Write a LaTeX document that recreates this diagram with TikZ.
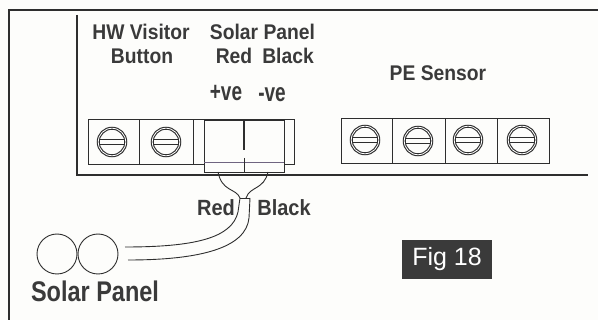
\documentclass[tikz,border=0pt]{standalone}
\usepackage{fontspec}
\setmainfont{Liberation Sans}
\usetikzlibrary{calc}
\definecolor{inkgray}{HTML}{2E2E2E}
\definecolor{labelgray}{HTML}{3A3A3A}
\definecolor{paper}{HTML}{FDFDFB}
\definecolor{plugline}{HTML}{6F6480}

\begin{document}
\begin{tikzpicture}[x=1pt,y=-1pt,
    inkline/.style={draw=inkgray,line width=0.9pt},
    frameline/.style={draw=inkgray,line width=1.7pt},
    cell/.style={inkline,inner sep=0pt,minimum height=45pt},
    screw/.style={circle,draw=inkgray,line width=1.1pt,double=white,double distance=0.8pt,
      inner sep=0pt,minimum size=27.5pt,
      path picture={
        \draw[inkgray,line width=1.2pt]
          ($(path picture bounding box.center)+(-16,-2.5)$) -- ++(32,0)
          ($(path picture bounding box.center)+(-16,2.5)$) -- ++(32,0);
      }},
    panel/.style={circle,inkline,inner sep=0pt,minimum size=40pt},
    label/.style={text=labelgray,font=\bfseries\fontsize{19.3}{21}\selectfont,inner sep=0pt,
      transform shape,yscale=1.1},
    tall label/.style={label,font=\bfseries\fontsize{20}{22}\selectfont,xscale=0.95,yscale=1.18},
    biglabel/.style={label,font=\bfseries\fontsize{23.5}{25}\selectfont,yscale=1.1}]
    \fill[paper] (0,0) rectangle (598,320);
    \useasboundingbox (0,0) rectangle (598,320);

    % Outer frame and the edge of the board
    \coordinate (frameTR) at (598,10);
    \coordinate (frameTL) at (9,10);
    \coordinate (frameBL) at (9,320);
    \coordinate (boardT) at (77,15);
    \coordinate (boardL) at (77,175);
    \coordinate (boardR) at (588,175);
    \draw[frameline] (frameTR) -- (frameTL) -- (frameBL);
    \draw[inkline,line width=1.2pt] (boardT) -- (boardL) -- (boardR);

    % Left terminal block
    \node[cell,minimum width=51pt] (hwA) at (113.5,141.5) {};
    \node[cell,minimum width=54pt] (hwB) at (166,141.5) {};
    \node[cell,minimum width=101pt] (solarCell) at (243.5,141.5) {};
    \node[screw] (hwScrewA) at (112,142) {};
    \node[screw] (hwScrewB) at (166,142) {};

    % Solar panel plug
    \node[cell,fill=paper,minimum width=80pt,minimum height=52pt] (plug) at (244,146) {};
    \coordinate (plugL) at (204,163);
    \coordinate (plugR) at (284,163);
    \draw[plugline,line width=1pt] (plugL) -- (plugR);
    \coordinate (splitA) at (244,150);
    \coordinate (splitB) at (244,158);
    \draw[inkline,line width=1.2pt] (plug.north) -- (splitA);
    \draw[inkline] (splitB) -- (plug.south);

    % Right terminal block
    \node[cell,minimum width=51pt] (peA) at (366.5,140.5) {};
    \node[cell,minimum width=53pt] (peB) at (418.5,140.5) {};
    \node[cell,minimum width=52pt] (peC) at (471,140.5) {};
    \node[cell,minimum width=52pt] (peD) at (523,140.5) {};
    \node[screw] (peScrewA) at (365,140) {};
    \node[screw] (peScrewB) at (418,141) {};
    \node[screw] (peScrewC) at (468,140) {};
    \node[screw] (peScrewD) at (522,140) {};

    % Cable to the panel
    \coordinate (cableL) at (240,198);
    \coordinate (cableR) at (250,198);
    \coordinate (cableMidA) at (238,212);
    \coordinate (cableMidB) at (249,218);
    \coordinate (wireA) at (218,172);
    \coordinate (wireB) at (268,172);
    \coordinate (wireEndB) at (246,198);
    \coordinate (cableEndA) at (125,247);
    \coordinate (cableEndB) at (128,260);
    \draw[inkline] (wireA) .. controls (222,192) and (236,188) .. (cableL);
    \draw[inkline] (wireB) .. controls (264,190) and (250,186) .. (wireEndB);
    \draw[inkline] (cableL) -- (cableR);
    \draw[inkline] (cableL) -- (cableMidA) .. controls (232,238) and (195,247) .. (cableEndA);
    \draw[inkline] (cableR) -- (cableMidB) .. controls (246,248) and (200,260) .. (cableEndB);
    \node[panel] (panelA) at (57,254) {};
    \node[panel] (panelB) at (98,254) {};

    % Labels
    \node[label] (hwTop) at (141,32) {HW Visitor};
    \node[label] (hwBottom) at (142,56) {Button};
    \node[label] (solarTop) at (262.5,32) {Solar Panel};
    \node[label] (solarRed) at (234,56) {Red};
    \node[label] (solarBlack) at (288,56) {Black};
    \node[tall label] (plusVe) at (226,93) {+ve};
    \node[tall label] (minusVe) at (272,95) {-ve};
    \node[label] (peLabel) at (438,73) {PE Sensor};
    \node[label,font=\bfseries\fontsize{20}{22}\selectfont] (cableRed) at (216,208) {Red};
    \node[label,font=\bfseries\fontsize{20}{22}\selectfont] (cableBlack) at (284,208) {Black};
    \node[biglabel] (panelLabel) at (95,291) {Solar Panel};

    % Figure tag
    \node[fill=labelgray,text=white,font=\fontsize{25}{27}\selectfont,
      minimum width=90pt,minimum height=39pt,inner sep=0pt] (figTag) at (447,259.5) {Fig 18};
\end{tikzpicture}
\end{document}
